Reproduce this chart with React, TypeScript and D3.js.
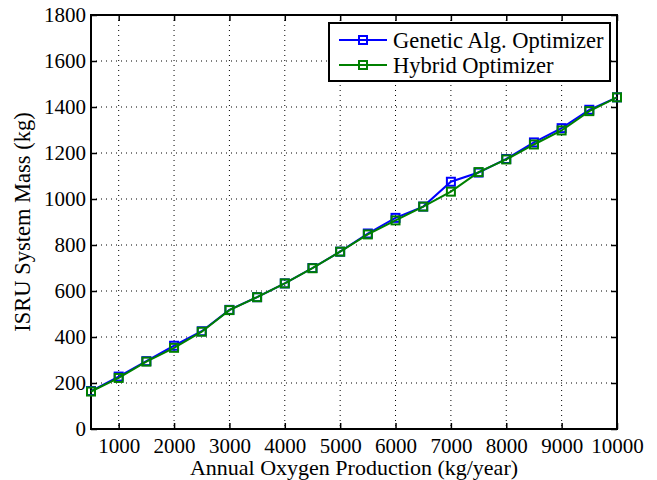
import React, { useEffect, useRef } from 'react';
import * as d3 from 'd3';

// annual O2 production (kg/year)
const production = [500, 1000, 1500, 2000, 2500, 3000, 3500, 4000, 4500, 5000,
  5500, 6000, 6500, 7000, 7500, 8000, 8500, 9000, 9500, 10000];
// ISRU system mass (kg)
const gaMass = [165, 228, 295, 362, 425, 518, 573, 633, 700, 771,
  850, 918, 967, 1075, 1115, 1174, 1246, 1308, 1388, 1442];
const hybridMass = [163, 222, 293, 353, 423, 517, 573, 633, 699, 771,
  846, 907, 967, 1032, 1117, 1172, 1237, 1298, 1382, 1442];

const xTicks = [1000, 2000, 3000, 4000, 5000, 6000, 7000, 8000, 9000, 10000];
const yTicks = [0, 200, 400, 600, 800, 1000, 1200, 1400, 1600, 1800];

const seriesNames = ['Genetic Alg. Optimizer', 'Hybrid Optimizer'];
const seriesColors = ['#0000ff', '#008000'];

const FONT = '"Liberation Serif", "Times New Roman", serif';

const App = () => {
  const ref = useRef<SVGSVGElement | null>(null);

  useEffect(() => {
    const svg = d3.select(ref.current);
    svg.selectAll('*').remove();

    const left = 91, right = 617, top = 15, bottom = 429;
    const x = d3.scaleLinear().domain([500, 10000]).range([left, right]);
    const y = d3.scaleLinear().domain([0, 1800]).range([bottom, top]);

    svg.append('rect').attr('width', 657).attr('height', 480).attr('fill', '#fff');

    // dotted grid
    const grid = svg.append('g').attr('stroke', '#000').attr('stroke-width', 1)
      .attr('stroke-dasharray', '1,4');
    xTicks.slice(0, -1).forEach(t => {
      grid.append('line').attr('x1', x(t)).attr('x2', x(t)).attr('y1', top).attr('y2', bottom);
    });
    yTicks.slice(1, -1).forEach(t => {
      grid.append('line').attr('x1', left).attr('x2', right).attr('y1', y(t)).attr('y2', y(t));
    });

    // axes, inward ticks on every side
    const tick = 6;
    svg.append('g').attr('transform', `translate(0,${bottom})`)
      .call(d3.axisBottom(x).tickValues(xTicks).tickSizeInner(-tick).tickSizeOuter(0).tickPadding(9).tickFormat(d3.format('d')));
    svg.append('g').attr('transform', `translate(0,${top})`)
      .call(d3.axisTop(x).tickValues(xTicks).tickSizeInner(-tick).tickSizeOuter(0).tickFormat(() => ''));
    svg.append('g').attr('transform', `translate(${left},0)`)
      .call(d3.axisLeft(y).tickValues(yTicks).tickSizeInner(-tick).tickSizeOuter(0).tickPadding(5).tickFormat(d3.format('d')));
    svg.append('g').attr('transform', `translate(${right},0)`)
      .call(d3.axisRight(y).tickValues(yTicks).tickSizeInner(-tick).tickSizeOuter(0).tickFormat(() => ''));

    svg.selectAll('.domain').remove();
    svg.selectAll('.tick line').attr('stroke', '#000').attr('stroke-width', 1.5);
    svg.selectAll('.tick text').attr('font-family', FONT).attr('font-size', 21).attr('fill', '#000');

    svg.append('rect').attr('x', left).attr('y', top)
      .attr('width', right - left).attr('height', bottom - top)
      .attr('fill', 'none').attr('stroke', '#000').attr('stroke-width', 2);

    // series
    const series = [gaMass, hybridMass];
    series.forEach((vals, i) => {
      const pts = production.map((p, j) => [x(p), y(vals[j])] as [number, number]);
      svg.append('path').datum(pts)
        .attr('fill', 'none').attr('stroke', seriesColors[i]).attr('stroke-width', 2)
        .attr('d', d3.line());
      svg.append('g').selectAll('rect').data(pts).join('rect')
        .attr('x', d => d[0] - 4).attr('y', d => d[1] - 4)
        .attr('width', 8).attr('height', 8)
        .attr('fill', 'none').attr('stroke', seriesColors[i]).attr('stroke-width', 2);
    });

    // axis titles
    svg.append('text').attr('x', (left + right) / 2).attr('y', 475)
      .attr('text-anchor', 'middle').attr('font-family', FONT).attr('font-size', 22)
      .text('Annual Oxygen Production (kg/year)');
    svg.append('text').attr('transform', `translate(30,${(top + bottom) / 2}) rotate(-90)`)
      .attr('text-anchor', 'middle').attr('font-family', FONT).attr('font-size', 22.5)
      .text('ISRU System Mass (kg)');

    // legend
    const lg = svg.append('g');
    lg.append('rect').attr('x', 329).attr('y', 23).attr('width', 281).attr('height', 58)
      .attr('fill', '#fff').attr('stroke', '#000').attr('stroke-width', 2);
    seriesNames.forEach((name, i) => {
      const ly = 40 + i * 25;
      lg.append('line').attr('x1', 339).attr('x2', 387).attr('y1', ly).attr('y2', ly)
        .attr('stroke', seriesColors[i]).attr('stroke-width', 2);
      lg.append('rect').attr('x', 359).attr('y', ly - 4).attr('width', 8).attr('height', 8)
        .attr('fill', 'none').attr('stroke', seriesColors[i]).attr('stroke-width', 2);
      lg.append('text').attr('x', 393).attr('y', ly + 7.5)
        .attr('font-family', FONT).attr('font-size', 22.5).text(name);
    });
  }, []);

  return (
    <div style={{ position: 'absolute', left: 0, top: 0 }}>
      <svg ref={ref} width="657" height="480" style={{ display: 'block' }}></svg>
    </div>
  );
};

export default App;
